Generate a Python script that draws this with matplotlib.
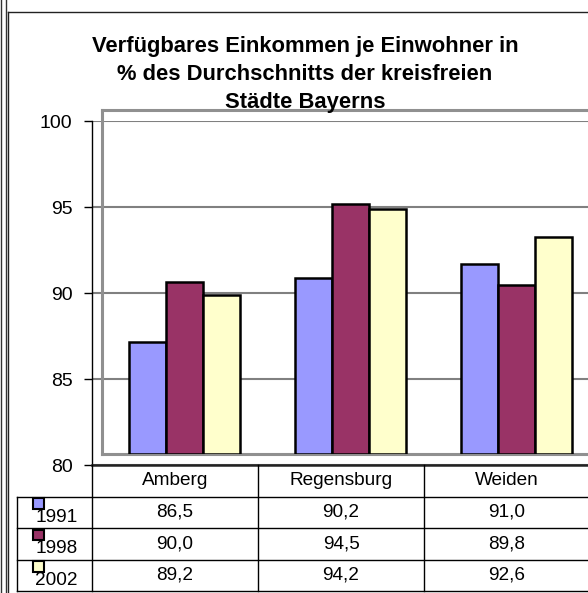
"""Verfuegbares Einkommen je Einwohner - Excel-Stil Balken mit Datentabelle."""
import matplotlib
matplotlib.use("Agg")
import matplotlib.pyplot as plt
from matplotlib.lines import Line2D
from matplotlib.patches import Rectangle

# data
cities = ["Amberg", "Regensburg", "Weiden"]
years = ["1991", "1998", "2002"]
v1991 = [86.5, 90.2, 91.0]
v1998 = [90.0, 94.5, 89.8]
v2002 = [89.2, 94.2, 92.6]
series = [v1991, v1998, v2002]
colors = ["#9999FF", "#993366", "#FFFFCC"]
yticks = [80, 85, 90, 95, 100]
title = "Verfügbares Einkommen je Einwohner in\n% des Durchschnitts der kreisfreien\nStädte Bayerns"

W, H = 588, 593
plt.rcParams["font.family"] = ["Liberation Sans", "DejaVu Sans"]
fig = plt.figure(figsize=(W / 100, H / 100), dpi=100)


def box(x0, y0, x1, y1):
    """pixel box (top-left origin) -> figure fraction rect"""
    return [x0 / W, 1 - y1 / H, (x1 - x0) / W, (y1 - y0) / H]


def fline(xs, ys, **kw):
    fig.add_artist(Line2D([x / W for x in xs], [1 - y / H for y in ys],
                          transform=fig.transFigure, **kw))


# sheet borders and chart area border
fline([1.5, 1.5], [0, H], color="#333333", lw=1)
fline([5.5, 5.5], [0, H], color="#333333", lw=1)
fline([7.5, 7.5], [11.5, H], color="#222222", lw=1)
fline([7.5, W], [11.5, 11.5], color="#222222", lw=1)

fig.text(305 / W, 1 - 74.5 / H, title, ha="center", va="center",
         fontsize=15.8, fontweight="bold", linespacing=1.42)

# front axis: ticks + gridlines
x0, x1, ytop, ybot = 92, 590, 121, 465
ax = fig.add_axes(box(x0, ytop, x1, ybot))
ax.set_xlim(-0.5, 2.5)
ax.set_ylim(80, 100)
ax.set_yticks(yticks)
ax.set_xticks([])
ax.tick_params(axis="y", length=6, width=1, labelsize=14, pad=8)
for s in ["top", "right"]:
    ax.spines[s].set_visible(False)
ax.spines["left"].set_linewidth(1)
ax.spines["bottom"].set_linewidth(1.8)
ax.spines["bottom"].set_color("#222222")
ax.grid(axis="y", color="#808080", lw=1.5)
ax.set_axisbelow(True)

# back wall (3D depth offset) with bars
dx, dy = 9.5, 11.5
bx = fig.add_axes(box(x0 + dx, ytop - dy, x1 + dx, ybot - dy))
bx.set_facecolor("none")
bx.set_xlim(-0.5, 2.5)
bx.set_ylim(80, 100)
bx.set_xticks([])
bx.set_yticks([])
for s in bx.spines.values():
    s.set_color("#909090")
    s.set_linewidth(2.2)
bw = 1 / 4.5
for i, (vals, c) in enumerate(zip(series, colors)):
    xs = [k + (i - 1) * bw for k in range(len(cities))]
    bx.bar(xs, [v - 80 for v in vals], bw, bottom=80, color=c,
           edgecolor="black", linewidth=1.8, zorder=3)

# data table
tb = fig.add_axes(box(x0, ybot, x1, 591))
tb.set_xlim(-0.5, 2.5)
tb.set_ylim(4, 0)
tb.axis("off")
lab_left = -0.5 - (x0 - 17) / 166
kw = dict(color="black", lw=1, clip_on=False)
for r in [1, 2, 3, 4]:
    tb.plot([lab_left, 2.6], [r, r], **kw)
tb.plot([lab_left, lab_left], [1, 4], **kw)
for c in [-0.5, 0.5, 1.5]:
    tb.plot([c, c], [0, 4], **kw)
for j, name in enumerate(cities):
    tb.text(j, 0.5, name, ha="center", va="center", fontsize=13.7)
for i, (yr, vals, c) in enumerate(zip(years, series, colors)):
    for j, v in enumerate(vals):
        tb.text(j, i + 1.5, f"{v:.1f}".replace(".", ","), ha="center",
                va="center", fontsize=13.7)
    kx = -0.5 - (x0 - 33) / 166
    tb.add_patch(Rectangle((kx, i + 1.05), 11 / 166, 0.34, facecolor=c,
                           edgecolor="black", lw=1.5, clip_on=False))
    tb.text(-0.5 - (x0 - 78) / 166, i + 1.66, yr, ha="right", va="center",
            fontsize=13.7)

fig.savefig("out.png", dpi=100)
